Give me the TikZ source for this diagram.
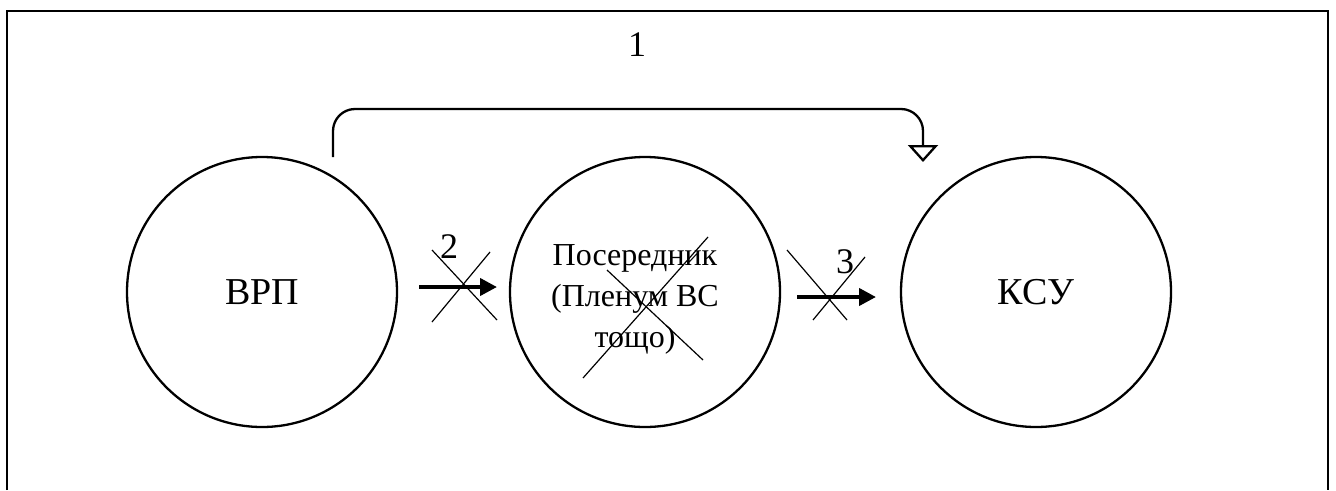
\documentclass[tikz,border=0pt]{standalone}
\usepackage{fontspec}
\setmainfont{Liberation Serif}
\usetikzlibrary{arrows.meta}
\begin{document}
\begin{tikzpicture}[x=1pt,y=-1pt,
  circ/.style={draw,circle,line width=2.3pt,minimum size=270pt,inner sep=0pt},
  bigtxt/.style={font=\fontsize{38}{42}\selectfont},
  midtxt/.style={font=\fontsize{32}{41}\selectfont,align=center},
  numlbl/.style={font=\fontsize{36}{40}\selectfont,inner sep=0pt},
  flow/.style={line width=4pt,-{Triangle[length=17pt,width=17pt]}},
  cross/.style={line width=1.2pt}]
\useasboundingbox (0,0) rectangle (1336,490);
% frame (open at bottom)
\draw[line width=2.3pt] (7,490) -- (7,11) -- (1328,11) -- (1328,490);
% circles
\node[circ,bigtxt] (vrp) at (262,292) {ВРП};
\node[circ] (mid) at (645,292) {};
\node[midtxt] (midt) at (635,299) {Посередник\\(Пленум ВС\\тощо)};
\node[circ,bigtxt] (ksu) at (1036,292) {КСУ};
% connector 1
\coordinate (s1) at (333,157);
\coordinate (e1) at (923,162);
\draw[line width=2.3pt,rounded corners=22pt,-{Triangle[open,length=17pt,width=30pt]}]
  (s1) -- (333,109) -- (923,109) -- (e1);
\node[numlbl] (l1) at (637,45) {1};
% arrow 2
\coordinate (a2s) at (419,287);
\coordinate (a2e) at (497,287);
\draw[flow] (a2s) -- (a2e);
\node[numlbl] (l2) at (449,247) {2};
\draw[cross] (432,250) -- (497,320);
\draw[cross] (490,252) -- (432,322);
% arrow 3
\coordinate (a3s) at (797,297);
\coordinate (a3e) at (876,297);
\draw[flow] (a3s) -- (a3e);
\node[numlbl] (l3) at (845,262) {3};
\draw[cross] (787,250) -- (847,320);
\draw[cross] (865,257) -- (813,320);
% cross over mediator
\draw[cross] (607,270) -- (703,360);
\draw[cross] (708,237) -- (583,378);
\end{tikzpicture}
\end{document}
